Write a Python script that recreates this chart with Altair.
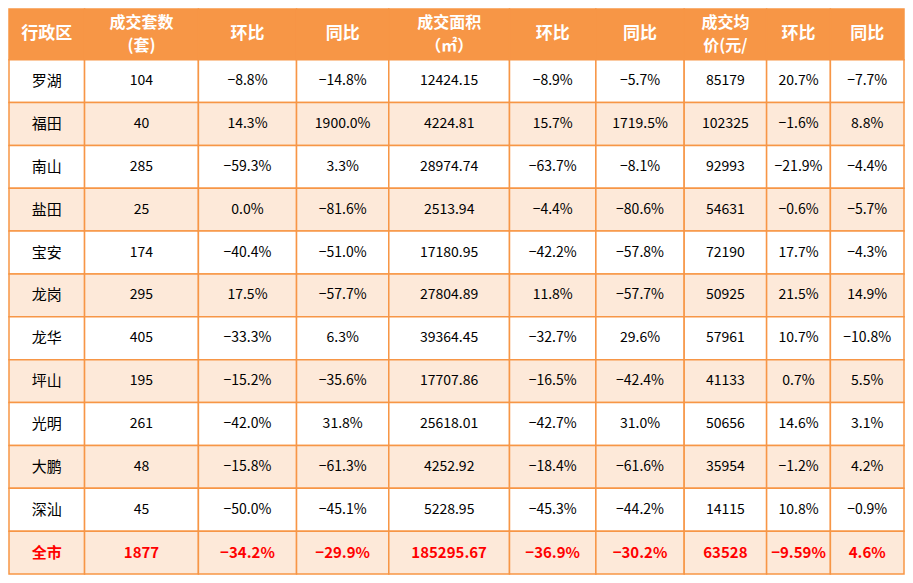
import altair as alt
import pandas as pd

# ---- data ----
headers = ["行政区", "成交套数\n(套)", "环比", "同比", "成交面积\n（㎡）", "环比", "同比", "成交均\n价(元/", "环比", "同比"]
districts = ["罗湖", "福田", "南山", "盐田", "宝安", "龙岗", "龙华", "坪山", "光明", "大鹏", "深汕", "全市"]
units = ["104", "40", "285", "25", "174", "295", "405", "195", "261", "48", "45", "1877"]
units_mom = ["−8.8%", "14.3%", "−59.3%", "0.0%", "−40.4%", "17.5%", "−33.3%", "−15.2%", "−42.0%", "−15.8%", "−50.0%", "−34.2%"]
units_yoy = ["−14.8%", "1900.0%", "3.3%", "−81.6%", "−51.0%", "−57.7%", "6.3%", "−35.6%", "31.8%", "−61.3%", "−45.1%", "−29.9%"]
area = ["12424.15", "4224.81", "28974.74", "2513.94", "17180.95", "27804.89", "39364.45", "17707.86", "25618.01", "4252.92", "5228.95", "185295.67"]
area_mom = ["−8.9%", "15.7%", "−63.7%", "−4.4%", "−42.2%", "11.8%", "−32.7%", "−16.5%", "−42.7%", "−18.4%", "−45.3%", "−36.9%"]
area_yoy = ["−5.7%", "1719.5%", "−8.1%", "−80.6%", "−57.8%", "−57.7%", "29.6%", "−42.4%", "31.0%", "−61.6%", "−44.2%", "−30.2%"]
price = ["85179", "102325", "92993", "54631", "72190", "50925", "57961", "41133", "50656", "35954", "14115", "63528"]
price_mom = ["20.7%", "−1.6%", "−21.9%", "−0.6%", "17.7%", "21.5%", "10.7%", "0.7%", "14.6%", "−1.2%", "10.8%", "−9.59%"]
price_yoy = ["−7.7%", "8.8%", "−4.4%", "−5.7%", "−4.3%", "14.9%", "−10.8%", "5.5%", "3.1%", "4.2%", "−0.9%", "4.6%"]

# ---- layout (table grid in source pixel units) ----
col_edges = [0, 77, 193, 293, 387, 510, 598, 688, 772, 837, 912]
header_h = 52
row_h = 44
total_h = header_h + row_h * len(districts)
header_line_gap = 24

columns = [districts, units, units_mom, units_yoy, area, area_mom, area_yoy, price, price_mom, price_yoy]

HEADER_FILL = "#F79646"
ALT_FILL = "#FDE9D9"
LINE = "#F79646"

cells = []
texts = []
for c in range(len(headers)):
    x0, x1 = col_edges[c], col_edges[c + 1]
    cx = (x0 + x1) / 2
    cells.append(dict(x0=x0, x1=x1, y0=0, y1=header_h, fill=HEADER_FILL))
    lines = headers[c].split("\n")
    n = len(lines)
    for i, ln in enumerate(lines):
        yy = header_h / 2 + (i - (n - 1) / 2) * header_line_gap
        texts.append(dict(x=cx, y=yy, label=ln, kind="header1" if n == 1 else "header2"))
    for r in range(len(districts)):
        y0 = header_h + r * row_h
        fill = ALT_FILL if r % 2 == 1 else "#FFFFFF"
        cells.append(dict(x0=x0, x1=x1, y0=y0, y1=y0 + row_h, fill=fill))
        kind = "total" if r == len(districts) - 1 else ("name" if c == 0 else "body")
        texts.append(dict(x=cx, y=y0 + row_h / 2, label=columns[c][r], kind=kind))

cells_df = pd.DataFrame(cells)
texts_df = pd.DataFrame(texts)

xs = alt.Scale(domain=[0, col_edges[-1]], nice=False, zero=False)
ys = alt.Scale(domain=[0, total_h], nice=False, zero=False, reverse=True)

rects = alt.Chart(cells_df).mark_rect(stroke=LINE, strokeWidth=1.5).encode(
    x=alt.X("x0:Q", scale=xs, axis=None),
    x2="x1:Q",
    y=alt.Y("y0:Q", scale=ys, axis=None),
    y2="y1:Q",
    fill=alt.Fill("fill:N", scale=None),
)

FONT = "Noto Sans CJK SC"

def text_layer(kind, **kw):
    return alt.Chart(texts_df).transform_filter(alt.datum.kind == kind).mark_text(
        font=FONT, align="center", baseline="middle", **kw
    ).encode(
        x=alt.X("x:Q", scale=xs, axis=None),
        y=alt.Y("y:Q", scale=ys, axis=None),
        text="label:N",
    )

header1_t = text_layer("header1", color="white", fontWeight="bold", fontSize=17)
header2_t = text_layer("header2", color="white", fontWeight="bold", fontSize=16)
name_t = text_layer("name", color="#000000", fontSize=15)
body_t = text_layer("body", color="#000000", fontSize=14)
total_t = text_layer("total", color="#FF0000", fontSize=15, fontWeight="bold")

chart = alt.layer(rects, header1_t, header2_t, name_t, body_t, total_t).properties(
    width=897, height=567, padding=0,
    autosize=alt.AutoSizeParams(type="fit", contains="padding"),
).configure_view(stroke=None)

chart.save("out.html", embed_options={"renderer": "svg", "actions": False})
